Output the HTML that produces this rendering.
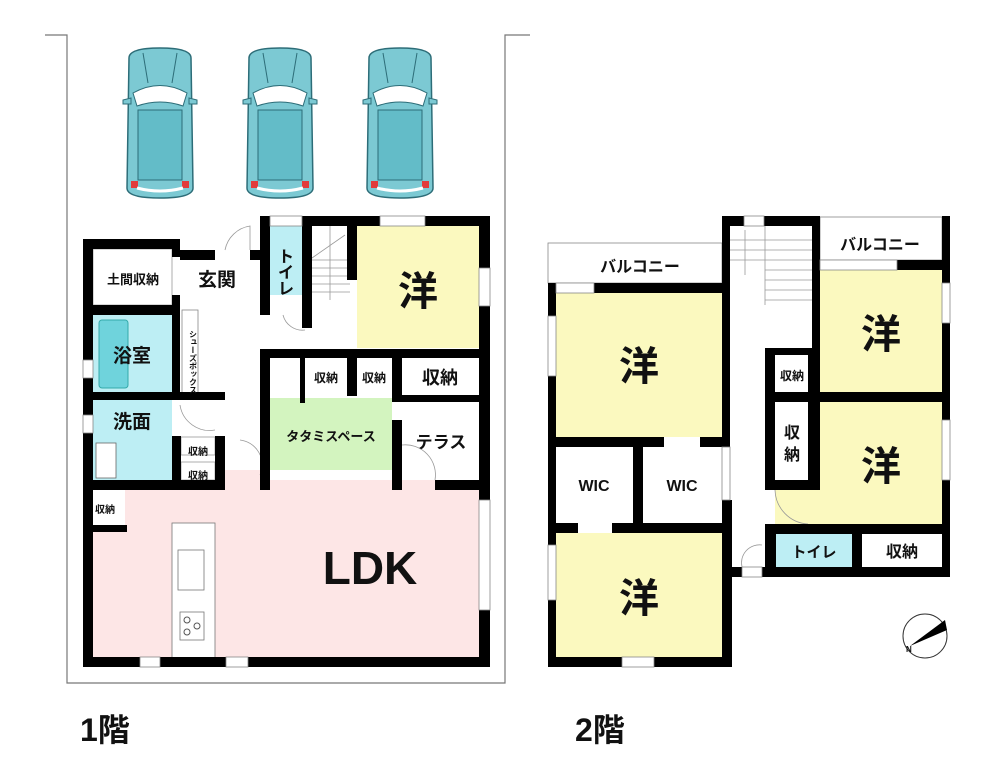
<!DOCTYPE html>
<html><head><meta charset="utf-8"><style>
html,body{margin:0;padding:0;background:#fff;}
svg{display:block;}
text{font-family:"Liberation Sans","Noto Sans CJK JP",sans-serif;font-weight:bold;fill:#111;}
</style></head><body>
<svg width="1000" height="778" viewBox="0 0 1000 778" xmlns="http://www.w3.org/2000/svg">
<defs>
<g id="car">
  <path d="M6,10 Q6,0 37,0 Q68,0 68,10 L70,140 Q70,150 37,150 Q4,150 4,140 Z" fill="#7cc9d3" stroke="#2d6d78" stroke-width="1.5"/>
  <path d="M10,45 Q37,30 64,45 L60,58 Q37,50 14,58 Z" fill="#fff" stroke="#2d6d78"/>
  <rect x="15" y="62" width="44" height="70" fill="#63bcc8" stroke="#2d6d78"/>
  <path d="M0,52 L8,50 L8,56 L0,56 Z M74,52 L66,50 L66,56 L74,56 Z" fill="#7cc9d3" stroke="#2d6d78"/>
  <rect x="8" y="133" width="7" height="7" fill="#e23a3a"/><rect x="59" y="133" width="7" height="7" fill="#e23a3a"/>
  <path d="M14,140 Q37,146 60,140" stroke="#fff" stroke-width="3" fill="none"/>
  <line x1="20" y1="5" x2="25" y2="35" stroke="#2d6d78"/><line x1="54" y1="5" x2="49" y2="35" stroke="#2d6d78"/>
</g>
</defs>

<!-- lot -->
<polyline points="45,35 67,35 67,683 505,683 505,35 530,35" fill="none" stroke="#777" stroke-width="1.2"/>
<use href="#car" x="123" y="48"/>
<use href="#car" x="243" y="48"/>
<use href="#car" x="363" y="48"/>

<!-- ===== Floor 1 fills ===== -->
<rect x="93" y="249" width="79" height="56" fill="#fff" stroke="#999" stroke-width="0.8"/>
<rect x="270" y="226" width="32" height="69" fill="#bdeef4"/>
<rect x="357" y="226" width="122" height="122" fill="#fbf9bf"/>
<rect x="93" y="315" width="79" height="77" fill="#bdeef4"/>
<rect x="99" y="320" width="29" height="68" rx="3" fill="#6fd3dc" stroke="#3aa"/>
<rect x="93" y="400" width="79" height="80" fill="#bdeef4"/>
<rect x="96" y="443" width="20" height="35" fill="#fff" stroke="#666" stroke-width="0.8"/>
<rect x="270" y="398" width="122" height="72" fill="#d3f4bf"/>
<path d="M93,490 L172,490 L172,480 L225,480 L225,470 L260,470 L260,480 L479,480 L479,657 L93,657 Z" fill="#fde6e6"/>
<rect x="93" y="490" width="32" height="35" fill="#fff"/>
<rect x="172" y="523" width="43" height="140" fill="#fff" stroke="#777" stroke-width="0.8"/>
<rect x="178" y="550" width="26" height="40" fill="#fff" stroke="#777" stroke-width="0.8"/>
<rect x="180" y="612" width="24" height="28" fill="#fff" stroke="#777" stroke-width="0.8"/>
<circle cx="187" cy="620" r="3" fill="none" stroke="#555"/><circle cx="197" cy="626" r="3" fill="none" stroke="#555"/><circle cx="187" cy="632" r="3" fill="none" stroke="#555"/>
<rect x="181" y="437" width="34" height="18" fill="#fff" stroke="#999" stroke-width="0.8"/>
<rect x="181" y="462" width="34" height="18" fill="#fff" stroke="#999" stroke-width="0.8"/>
<rect x="182" y="310" width="16" height="83" fill="#fff" stroke="#888" stroke-width="0.8"/>
<!-- stairs -->
<g stroke="#999" stroke-width="0.8" fill="none">
<line x1="312" y1="260" x2="350" y2="260"/><line x1="312" y1="268" x2="350" y2="268"/><line x1="312" y1="276" x2="350" y2="276"/><line x1="312" y1="284" x2="350" y2="284"/><line x1="312" y1="292" x2="350" y2="292"/>
<line x1="312" y1="258" x2="345" y2="235"/><line x1="330" y1="226" x2="330" y2="300"/>
<path d="M225,250 A30,30 0 0 1 250,226 L250,250"/>
<path d="M283,315 A20,20 0 0 0 305,330"/>
<path d="M180,405 A30,30 0 0 0 215,430"/>
<path d="M240,440 A25,25 0 0 1 260,475"/>
<path d="M402,445 A30,30 0 0 1 435,480"/>
</g>

<!-- Floor 1 walls -->
<g fill="#000">
<rect x="83" y="239" width="97" height="10"/>
<rect x="83" y="239" width="10" height="428"/>
<rect x="83" y="657" width="407" height="10"/>
<rect x="479" y="216" width="11" height="451"/>
<rect x="260" y="216" width="230" height="10"/>
<rect x="172" y="249" width="8" height="8"/>
<rect x="180" y="250" width="35" height="10"/>
<rect x="250" y="250" width="10" height="10"/>
<rect x="260" y="216" width="10" height="99"/>
<rect x="302" y="216" width="10" height="112"/>
<rect x="347" y="216" width="10" height="64"/>
<rect x="83" y="305" width="97" height="10"/>
<rect x="172" y="295" width="8" height="105"/>
<rect x="83" y="392" width="142" height="8"/>
<rect x="83" y="480" width="142" height="10"/>
<rect x="172" y="436" width="9" height="54"/>
<rect x="215" y="436" width="10" height="54"/>
<rect x="83" y="525" width="44" height="7"/>
<rect x="260" y="349" width="230" height="9"/>
<rect x="260" y="349" width="10" height="141"/>
<rect x="300" y="358" width="5" height="45"/>
<rect x="347" y="349" width="10" height="47"/>
<rect x="392" y="349" width="10" height="47"/>
<rect x="392" y="395" width="98" height="7"/>
<rect x="392" y="420" width="10" height="70"/>
<rect x="435" y="480" width="55" height="10"/>
<rect x="260" y="480" width="10" height="10"/>
<rect x="208" y="532" width="7" height="100" fill="none"/>
</g>
<!-- windows -->
<g fill="#fff" stroke="#888" stroke-width="0.8">
<rect x="140" y="657" width="20" height="10"/><rect x="226" y="657" width="22" height="10"/>
<rect x="479" y="500" width="11" height="110"/><rect x="479" y="268" width="11" height="38"/>
<rect x="380" y="216" width="45" height="10"/><rect x="83" y="360" width="10" height="18"/><rect x="83" y="415" width="10" height="18"/>
<rect x="270" y="216" width="32" height="10"/>
</g>
<!-- F1 labels -->
<text x="133" y="284" font-size="13" text-anchor="middle">土間収納</text>
<text x="217" y="286" font-size="19" text-anchor="middle">玄関</text>
<text x="286" y="262" font-size="16" text-anchor="middle" transform="rotate(0)">ト</text>
<text x="286" y="278" font-size="16" text-anchor="middle">イ</text>
<text x="286" y="294" font-size="16" text-anchor="middle">レ</text>
<text x="418" y="305" font-size="40" text-anchor="middle">洋</text>
<text x="132" y="362" font-size="19" text-anchor="middle">浴室</text>
<text x="132" y="428" font-size="19" text-anchor="middle">洗面</text>
<text x="193" y="330" font-size="8" writing-mode="tb" font-weight="normal">シューズボックス</text>
<text x="326" y="382" font-size="12" text-anchor="middle">収納</text>
<text x="374" y="382" font-size="12" text-anchor="middle">収納</text>
<text x="440" y="384" font-size="18" text-anchor="middle">収納</text>
<text x="331" y="441" font-size="13" text-anchor="middle">タタミスペース</text>
<text x="441" y="448" font-size="17" text-anchor="middle">テラス</text>
<text x="198" y="455" font-size="10" text-anchor="middle">収納</text>
<text x="198" y="479" font-size="10" text-anchor="middle">収納</text>
<text x="105" y="513" font-size="10" text-anchor="middle">収納</text>
<text x="370" y="584" font-size="46" text-anchor="middle" font-weight="normal" style="font-weight:bold">LDK</text>

<!-- ===== Floor 2 ===== -->
<rect x="548" y="243" width="174" height="40" fill="#fff" stroke="#888" stroke-width="0.8"/>
<rect x="820" y="217" width="122" height="43" fill="#fff" stroke="#888" stroke-width="0.8"/>
<rect x="556" y="293" width="166" height="144" fill="#fbf9bf"/>
<rect x="820" y="270" width="122" height="122" fill="#fbf9bf"/>
<path d="M820,402 L942,402 L942,524 L775,524 L775,490 L820,490 Z" fill="#fbf9bf"/>
<rect x="776" y="534" width="76" height="33" fill="#bdeef4"/>
<rect x="556" y="533" width="166" height="124" fill="#fbf9bf"/>
<g stroke="#999" stroke-width="0.8" fill="none">
<line x1="730" y1="240" x2="812" y2="240"/><line x1="730" y1="250" x2="812" y2="250"/><line x1="730" y1="260" x2="812" y2="260"/><line x1="765" y1="270" x2="812" y2="270"/><line x1="765" y1="280" x2="812" y2="280"/><line x1="765" y1="290" x2="812" y2="290"/><line x1="765" y1="300" x2="812" y2="300"/>
<line x1="765" y1="226" x2="765" y2="305"/><line x1="745" y1="230" x2="745" y2="275"/>
<path d="M775,490 A35,35 0 0 0 808,524"/>
<path d="M742,567 A18,18 0 0 1 762,545"/>
</g>
<g fill="#000">
<rect x="548" y="283" width="182" height="10"/>
<rect x="548" y="283" width="8" height="384"/>
<rect x="548" y="657" width="182" height="10"/>
<rect x="722" y="216" width="8" height="230"/>
<rect x="722" y="500" width="10" height="167"/>
<rect x="722" y="216" width="98" height="10"/>
<rect x="812" y="216" width="8" height="132"/>
<rect x="942" y="216" width="8" height="361"/>
<rect x="897" y="260" width="53" height="10"/>
<rect x="765" y="348" width="55" height="7"/>
<rect x="765" y="348" width="10" height="52"/>
<rect x="808" y="348" width="12" height="142"/>
<rect x="765" y="392" width="185" height="10"/>
<rect x="765" y="402" width="10" height="88"/>
<rect x="765" y="480" width="55" height="10"/>
<rect x="765" y="524" width="185" height="10"/>
<rect x="765" y="534" width="11" height="43"/>
<rect x="852" y="534" width="10" height="33"/>
<rect x="730" y="567" width="220" height="10"/>
<rect x="548" y="437" width="116" height="10"/>
<rect x="700" y="437" width="30" height="10"/>
<rect x="633" y="447" width="10" height="76"/>
<rect x="548" y="523" width="30" height="10"/>
<rect x="612" y="523" width="118" height="10"/>
</g>
<g fill="#fff" stroke="#888" stroke-width="0.8">
<rect x="556" y="283" width="38" height="10"/><rect x="548" y="316" width="8" height="60"/><rect x="548" y="545" width="8" height="55"/>
<rect x="622" y="657" width="32" height="10"/><rect x="942" y="283" width="8" height="40"/><rect x="942" y="420" width="8" height="60"/>
<rect x="744" y="216" width="20" height="10"/><rect x="820" y="260" width="77" height="10"/><rect x="742" y="567" width="20" height="10"/>
<rect x="722" y="447" width="8" height="53"/>
</g>
<text x="640" y="272" font-size="16" text-anchor="middle">バルコニー</text>
<text x="880" y="250" font-size="16" text-anchor="middle">バルコニー</text>
<text x="639" y="380" font-size="40" text-anchor="middle">洋</text>
<text x="881" y="348" font-size="40" text-anchor="middle">洋</text>
<text x="881" y="480" font-size="40" text-anchor="middle">洋</text>
<text x="639" y="612" font-size="40" text-anchor="middle">洋</text>
<text x="594" y="491" font-size="16" text-anchor="middle" font-family="Liberation Sans">WIC</text>
<text x="682" y="491" font-size="16" text-anchor="middle">WIC</text>
<text x="792" y="380" font-size="12" text-anchor="middle">収納</text>
<text x="792" y="438" font-size="16" text-anchor="middle">収</text>
<text x="792" y="460" font-size="16" text-anchor="middle">納</text>
<text x="814" y="557" font-size="15" text-anchor="middle">トイレ</text>
<text x="902" y="557" font-size="16" text-anchor="middle">収納</text>
<!-- compass -->
<circle cx="925" cy="636" r="22" fill="#fff" stroke="#333" stroke-width="1"/>
<path d="M910,646 L945,620 L947,630 Z" fill="#000"/>
<text x="906" y="652" font-size="8" font-weight="normal">N</text>

<text x="80" y="741" font-size="32">1階</text>
<text x="575" y="741" font-size="32">2階</text>
</svg>
</body></html>
